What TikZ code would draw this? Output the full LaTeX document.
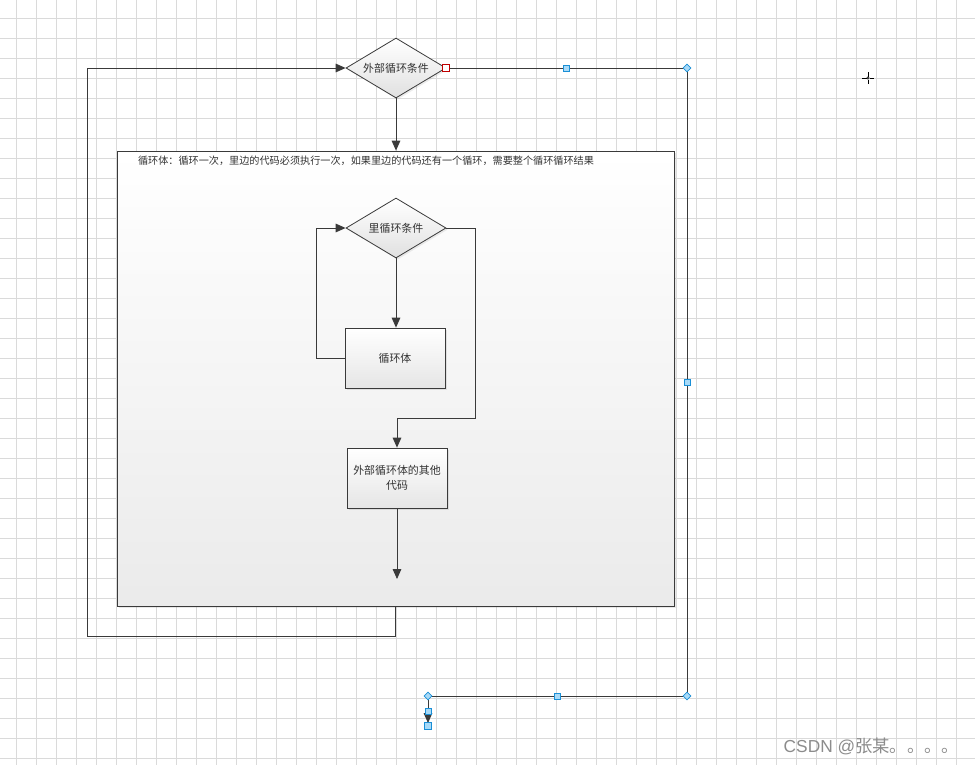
\documentclass[tikz,border=0pt]{standalone}
\usepackage{fontspec}
\setmainfont{Liberation Sans}
\newfontfamily\cjk{Noto Sans CJK SC}
\usetikzlibrary{shapes.geometric,arrows.meta,shadows}
\definecolor{linec}{HTML}{3A3A3A}
\definecolor{gridc}{HTML}{DADADA}
\definecolor{handleb}{HTML}{1A8FD6}
\definecolor{handlef}{HTML}{A8DAF8}
\definecolor{txtc}{HTML}{333333}
\tikzset{
  conn/.style={draw=linec, line width=0.65pt},
  arr/.style={conn, -{Triangle[length=7.5pt,width=6.5pt]}},
  dshape/.style={diamond, shape aspect=1.667, draw=linec, line width=0.6pt, top color=white, bottom color=black!12,
     minimum width=100*0.75pt, minimum height=60*0.75pt, inner sep=0pt, font=\cjk\fontsize{8.2}{10}\selectfont, text=txtc,
     drop shadow={opacity=0.15, shadow xshift=1.2pt, shadow yshift=-1.2pt}},
  bshape/.style={rectangle, draw=linec, line width=0.6pt, top color=white, bottom color=black!10,
     minimum width=100*0.75pt, minimum height=60*0.75pt, inner sep=2pt, font=\cjk\fontsize{8.2}{11.5}\selectfont, text=txtc, align=center,
     drop shadow={opacity=0.18, shadow xshift=1.5pt, shadow yshift=-1.5pt}},
  hsq/.style={rectangle, draw=handleb, fill=handlef, line width=0.6pt, minimum size=4.5pt, inner sep=0pt},
  hdi/.style={diamond, draw=handleb, fill=handlef, line width=0.5pt, minimum size=6pt, inner sep=0pt},
}
\begin{document}
\begin{tikzpicture}[x=0.75pt,y=-0.75pt]
\useasboundingbox (0,0) rectangle (975,765);
\fill[white] (0,0) rectangle (975,765);
% grid
\foreach \i in {0,...,48} {\draw[gridc, line width=0.7pt] (16.7+20*\i,0) -- (16.7+20*\i,765);}
\foreach \j in {0,...,37} {\draw[gridc, line width=0.7pt] (0,18+20*\j) -- (975,18+20*\j);}

% big loop body box
\node[rectangle, draw=linec, line width=0.6pt, top color=white, bottom color=black!8,
      minimum width=557*0.75pt, minimum height=455*0.75pt, inner sep=0pt,
      drop shadow={opacity=0.18, shadow xshift=1.5pt, shadow yshift=-1.5pt}] (bigbox) at (395.5,378.5) {};
\node[font=\cjk\fontsize{7.6}{9}\selectfont, text=txtc] (title) at (366,161)
  {循环体：循环一次，里边的代码必须执行一次，如果里边的代码还有一个循环，需要整个循环循环结果};

% shapes
\node[dshape] (outerD) at (396,68) {外部循环条件};
\node[dshape] (innerD) at (396,228) {里循环条件};
\node[bshape] (body) at (395,358) {循环体};
\node[bshape] (other) at (397,478) {外部循环体的其他\\代码};

% coordinates
\coordinate (h1) at (687,68);
\coordinate (h2) at (687,696);
\coordinate (h3) at (428,696);
\coordinate (hend) at (428,723);
\coordinate (c1) at (316,358);
\coordinate (c2) at (475,418);
\coordinate (c3) at (87,636);
\coordinate (endA) at (397,579);

% connectors
\draw[arr] (outerD.south) -- (outerD.south |- bigbox.north);
\draw[arr] (innerD.south) -- (innerD.south |- body.north);
\draw[arr] (body.west) -- (c1) |- (innerD.west);
\draw[arr] (innerD.east) -| (c2) -| (other.north);
\draw[arr] (other.south) -- (other.south |- endA);
\draw[arr] (bigbox.south) |- (c3) |- (outerD.west);
\draw[arr] (outerD.east) -- (h1) -- (h2) -- (h3) -- (hend);

% handles
\node[rectangle, draw=red!75!black, fill=white, line width=0.6pt, minimum size=5pt, inner sep=0pt] (rh) at (446,68) {};
\node[hsq] (m1) at (566,68) {};
\node[hdi] (d1) at (h1) {};
\node[hsq] (m2) at (687,382) {};
\node[hdi] (d2) at (h2) {};
\node[hsq] (m3) at (557,696) {};
\node[hdi] (d3) at (h3) {};
\node[hsq] (m4) at (428,711) {};
\node[rectangle, draw=handleb, fill=handlef, line width=0.6pt, minimum size=5.5pt, inner sep=0pt] (m5) at (428,726) {};

% crosshair
\draw[black, line width=0.6pt] (862,78) -- (866.5,78) (869.5,78) -- (874,78) (868,72) -- (868,76.5) (868,79.5) -- (868,84);
\draw[black, line width=0.4pt] (868,78) circle (1.3);

% watermark
\node[font=\fontsize{13}{15}\selectfont, text=black!45, anchor=west] (wm) at (779,746) {CSDN @{\cjk 张某。。。。}};
\end{tikzpicture}
\end{document}
